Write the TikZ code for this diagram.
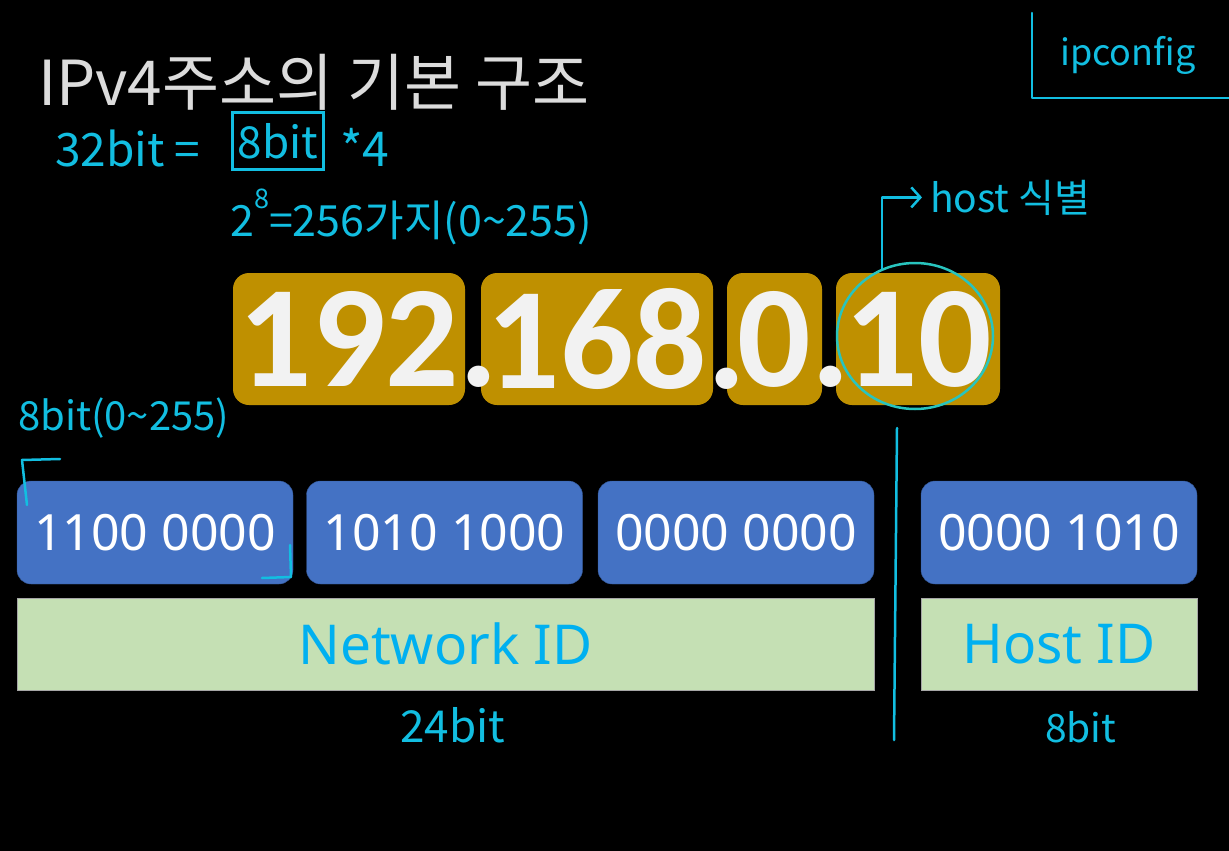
\documentclass[tikz,border=0pt]{standalone}
\usepackage{fontspec}
\setmainfont{Noto Sans}
\newfontfamily\krfont{Noto Sans CJK KR}
\newfontfamily\numfont{Carlito}
\usetikzlibrary{shapes.geometric, arrows.meta, positioning, calc}
\definecolor{mygold}{RGB}{191, 144, 0}
\definecolor{myblue}{RGB}{68, 114, 196}
\definecolor{mygreen}{RGB}{197, 224, 180}
\definecolor{mycyan}{RGB}{0, 176, 240}
\definecolor{penblue}{RGB}{18, 190, 225}
\definecolor{penteal}{RGB}{40, 196, 190}
\definecolor{titlegray}{RGB}{220, 220, 220}

% dot that hangs into the gap after an octet
\newcommand{\gapdot}{\rlap{.}}

\tikzset{
    octet/.style={fill=mygold, rounded corners=16pt, minimum height=132pt, inner sep=0pt,
        text=white!95!black, font=\numfont\bfseries\fontsize{145}{145}\selectfont},
    bitbox/.style={fill=myblue, draw=myblue!75!black, rounded corners=14pt, minimum width=276pt,
        minimum height=103pt, inner sep=0pt, text=white, font=\fontsize{50}{50}\selectfont},
    idbox/.style={fill=mygreen, draw=gray!70, line width=1pt, minimum height=92pt, inner sep=0pt,
        text=mycyan, font=\fontsize{55}{55}\selectfont},
    pen/.style={anchor=base west, inner sep=0pt, text=penblue, font=\krfont\fontsize{40}{40}\selectfont},
    penline/.style={draw=penblue, line width=2.5pt, line cap=round, line join=round},
}

\begin{document}
\begin{tikzpicture}[x=1pt, y=-1pt]
    \useasboundingbox (0,0) rectangle (1229,851);
    \fill[black] (0,0) rectangle (1229,851);

    % --- Title ---
    \node[anchor=base west, inner sep=0pt, text=titlegray, font=\krfont\fontsize{62}{62}\selectfont]
        (title) at (38,105) {IPv4주소의 기본 구조};

    % --- ipconfig corner ---
    \draw[penline] (1032,13) -- (1032,98) -- (1229,98);
    \node[pen, font=\krfont\fontsize{36}{36}\selectfont] (ipcfg) at (1060,66) {ipconfig};

    % --- Notes on the byte count ---
    \node[pen, font=\krfont\fontsize{46}{46}\selectfont] (total) at (55,166) {32bit =};
    \node[pen, anchor=center, draw=penblue, line width=2.5pt, minimum width=91pt, minimum height=57pt,
        font=\krfont\fontsize{44}{44}\selectfont] (byte) at (278,141) {8bit};
    \node[pen, font=\krfont\fontsize{48}{48}\selectfont] (times) at (340,166) {*4};
    \node[pen, font=\krfont\fontsize{43}{43}\selectfont] (range) at (230,236)
        {2\raisebox{0.65em}{\fontsize{27}{27}\selectfont 8}=256가지(0\textasciitilde255)};

    % --- Dotted decimal address (right to left, so each dot stays on top) ---
    \node[octet, minimum width=164pt] (o4) at (918,339) {10};
    \node[octet, minimum width=95pt] (o3) at (774.5,339) {0\gapdot};
    \node[octet, minimum width=232pt] (o2) at (597,339) {168\gapdot};
    \node[octet, minimum width=232pt] (o1) at (349,339) {192\gapdot};

    % --- Host mark ---
    \node[draw=penteal, line width=2.5pt, ellipse, minimum width=156pt, minimum height=146pt,
        inner sep=0pt] (hostmark) at (915,336) {};
    \node[pen, font=\krfont\fontsize{39}{39}\selectfont] (hostnote) at (930,212) {host 식별};
    \draw[penline, -{Straight Barb[length=9pt, width=20pt, line width=2.5pt]}, shorten >=8pt]
        (hostmark.116) |- (hostnote.west);

    % --- Binary octets ---
    \node[pen] (octnote) at (18,430) {8bit(0\textasciitilde255)};
    \node[bitbox] (b1) at (155,532.5) {1100 0000};
    \node[bitbox] (b2) at (444.5,532.5) {1010 1000};
    \node[bitbox] (b3) at (736,532.5) {0000 0000};
    \node[bitbox] (b4) at (1059,532.5) {0000 1010};
    \draw[penline] (27,505) -- (22,460) -- (60,459);
    \draw[penline] (290,545) -- (291,577) -- (262,578);

    % --- Network / host split ---
    \draw[penline] (897,428) -- (894,740);
    \node[idbox, minimum width=857pt] (net) at (445.5,644) {Network ID};
    \node[idbox, minimum width=276pt] (host) at (1059,644) {Host ID};
    \node[pen, font=\krfont\fontsize{44}{44}\selectfont] (netbits) at (400,742) {24bit};
    \node[pen, font=\krfont\fontsize{39}{39}\selectfont] (hostbits) at (1045,742) {8bit};
\end{tikzpicture}
\end{document}
